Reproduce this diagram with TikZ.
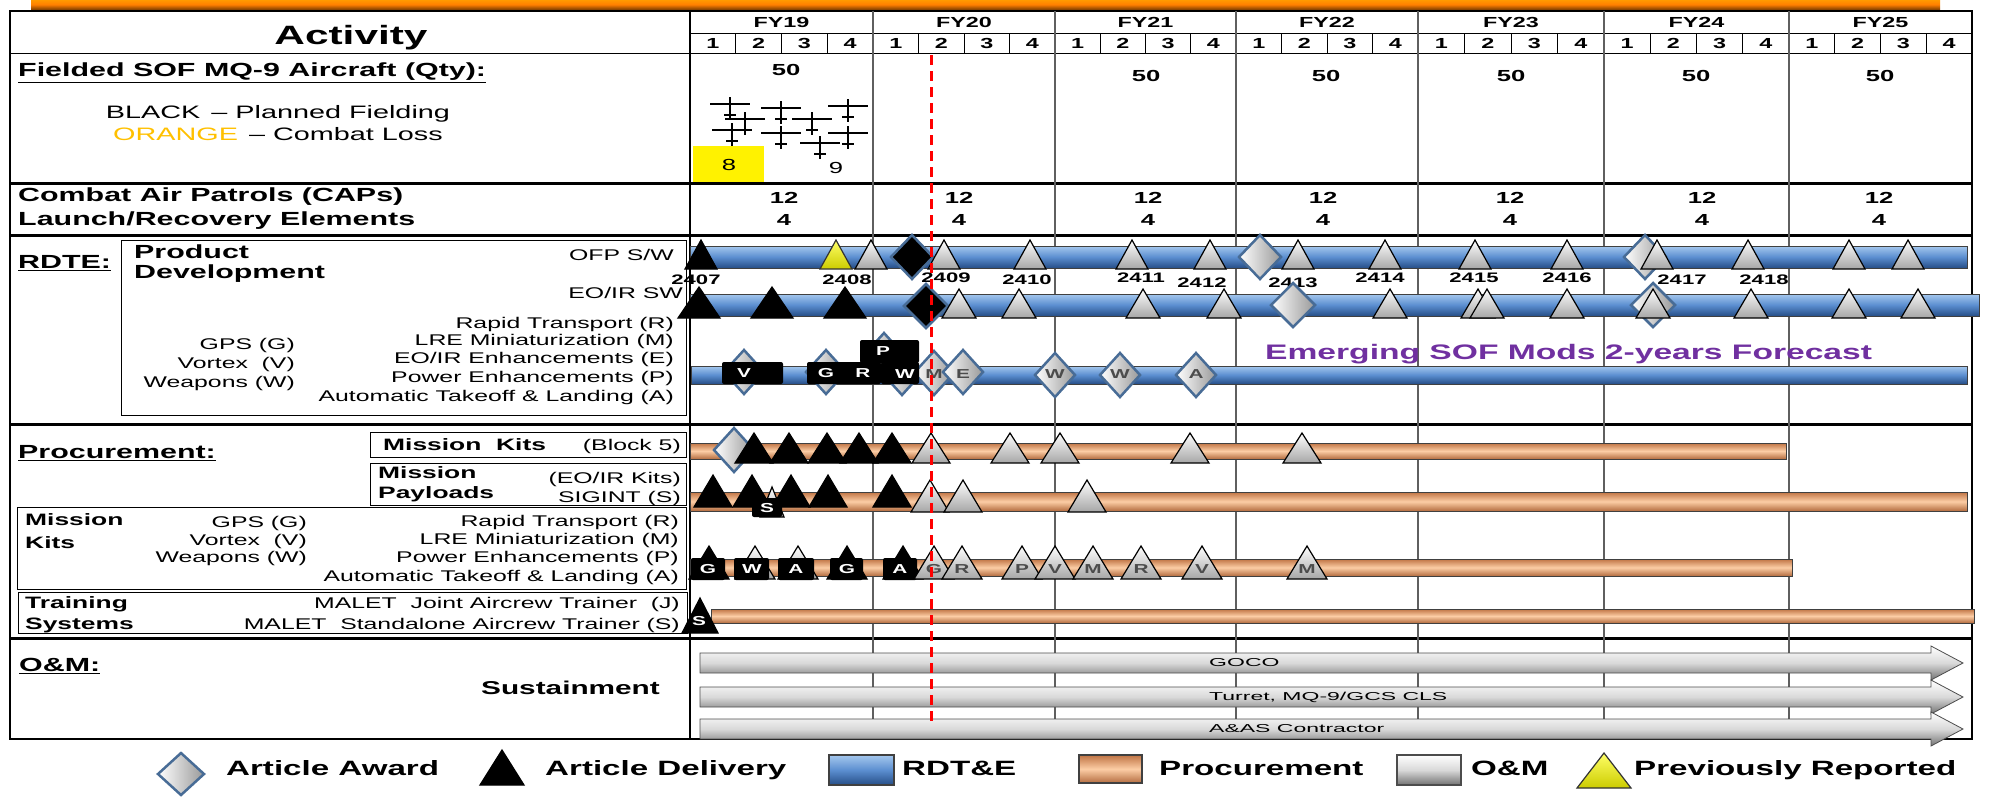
\documentclass[tikz,border=0pt]{standalone}
\usepackage{fontspec}
\setmainfont{Liberation Sans}[FakeStretch=1.6]
\newfontfamily\omfont{Liberation Sans}[FakeStretch=2.0]
\usepackage{xcolor}
\definecolor{rdblue}{RGB}{91,142,208}
\definecolor{rdlight}{RGB}{165,200,238}
\definecolor{rddark}{RGB}{38,78,135}
\definecolor{prorange}{RGB}{240,145,85}
\definecolor{prlight}{RGB}{252,205,165}
\definecolor{awblue}{RGB}{72,108,150}
\definecolor{modpurple}{RGB}{112,48,160}
\definecolor{lossorange}{RGB}{255,192,0}
\definecolor{gridgray}{RGB}{95,95,95}

\begin{document}
\begin{tikzpicture}[x=1pt,y=-1pt,
  every node/.style={inner sep=0pt,text depth=0pt},
  hd/.style={font=\bfseries\fontsize{19}{21}\selectfont},
  sub/.style={font=\bfseries\fontsize{16.5}{18}\selectfont},
  lbl/.style={font=\fontsize{15.5}{17}\selectfont},
  num/.style={font=\bfseries\fontsize{16}{18}\selectfont},
  fy/.style={font=\bfseries\fontsize{14.6}{16}\selectfont},
  ms/.style={font=\bfseries\fontsize{13.8}{15}\selectfont},
  key/.style={font=\bfseries\fontsize{20.7}{23}\selectfont,anchor=west},
  ltr/.style={font=\bfseries\fontsize{13}{14}\selectfont,white},
  gltr/.style={font=\bfseries\fontsize{13}{14}\selectfont,black!70},
  om/.style={font=\omfont\fontsize{11.5}{13}\selectfont,anchor=west},
  rdbar/.style={draw=black!75,line width=0.8pt,top color=rdlight,bottom color=rddark,middle color=rdblue},
  prbar/.style={draw=black!75,line width=0.8pt,top color=prorange!80!black,bottom color=prorange!75!black,middle color=prlight},
  ombar/.style={draw=black!70,line width=0.8pt,top color=white,bottom color=black!55,middle color=black!15},
  wtri/.style={draw=black,line width=1.2pt,top color=white,bottom color=black!35},
  btri/.style={draw=black,line width=1.2pt,fill=black},
  ytri/.style={draw=black!80,line width=1.2pt,top color=yellow!60,bottom color=yellow!80!black},
  award/.style={draw=awblue,line width=2.5pt,left color=white,right color=black!40},
  bdia/.style={draw=awblue,line width=2.5pt,fill=black},
  tag/.style={fill=black,rounded corners=2pt},
  plane/.style={line width=2.5pt}]
\useasboundingbox (0,0) rectangle (1990,796);

% frame and grid
\shade[top color=orange!80!yellow,bottom color=orange!55!black,middle color=orange] (31,0) rectangle (1940,9);
\draw[line width=1.5pt] (10,11) rectangle (1972,739);
\draw[line width=1pt] (690,33) -- (1972,33);
\draw[line width=1pt] (10,53) -- (1972,53);
\foreach \y in {183,235,424,638} \draw[line width=3pt] (10,\y) -- (1972,\y);
\draw[line width=1.5pt] (690,11) -- (690,739);
\foreach \x in {873,1055,1236,1418,1604,1789} \draw[gridgray,line width=1.5pt] (\x,11) -- (\x,739);
\foreach \a/\b [count=\i from 19] in {690/873,873/1055,1055/1236,1236/1418,1418/1604,1604/1789,1789/1972}{
  \node[fy] at ({(\a+\b)/2},22) {FY\i};
  \foreach \q in {1,...,4} \node[fy] at ({\a+(\q-0.5)*(\b-\a)/4},43) {\q};
  \foreach \q in {1,2,3} \draw[line width=1pt] ({\a+\q*(\b-\a)/4},33) -- ({\a+\q*(\b-\a)/4},53);
}

% activity column
\node[font=\bfseries\fontsize{26.5}{28}\selectfont] at (351,35) {Activity};
\node[hd,anchor=west] at (18,70) {\underline{Fielded SOF MQ-9 Aircraft (Qty):}};
\node[font=\fontsize{18}{20}\selectfont] at (278,112) {BLACK \,– Planned Fielding};
\node[font=\fontsize{18}{20}\selectfont] at (278,134) {\textcolor{lossorange}{ORANGE} \,– Combat Loss};
\node[hd,anchor=west] at (18,195) {Combat Air Patrols (CAPs)};
\node[hd,anchor=west] at (18,219) {Launch/Recovery Elements};

\node[hd,anchor=west] at (18,262) {\underline{RDTE:}};
\draw[line width=1pt] (121,240) rectangle (686,415);
\node[hd,anchor=west] at (134,252) {Product};
\node[hd,anchor=west] at (134,272) {Development};
\node[lbl,anchor=east] at (674,255) {OFP S/W};
\node[lbl,anchor=east] at (683,293) {EO/IR SW};
\node[lbl,anchor=east] at (674,323) {Rapid Transport (R)};
\node[lbl,anchor=east] at (674,340) {LRE Miniaturization (M)};
\node[lbl,anchor=east] at (674,358) {EO/IR Enhancements (E)};
\node[lbl,anchor=east] at (674,377) {Power Enhancements (P)};
\node[lbl,anchor=east] at (674,396) {Automatic Takeoff \& Landing (A)};
\node[lbl,anchor=east] at (295,344) {GPS (G)};
\node[lbl,anchor=east] at (295,363) {Vortex \ (V)};
\node[lbl,anchor=east] at (295,382) {Weapons (W)};

\node[hd,anchor=west] at (18,452) {\underline{Procurement:}};
\draw[line width=1pt] (370,432) rectangle (686,457);
\node[sub,anchor=west] at (383,445) {Mission \ Kits};
\node[lbl,anchor=east] at (681,445) {(Block 5)};
\draw[line width=1pt] (370,463) rectangle (686,505);
\node[sub,anchor=west] at (378,473) {Mission};
\node[sub,anchor=west] at (378,493) {Payloads};
\node[lbl,anchor=east] at (681,478) {(EO/IR Kits)};
\node[lbl,anchor=east] at (681,497) {SIGINT (S)};
\draw[line width=1pt] (17,507) rectangle (686,589);
\node[sub,anchor=west] at (25,520) {Mission};
\node[sub,anchor=west] at (25,543) {Kits};
\node[lbl,anchor=east] at (307,522) {GPS (G)};
\node[lbl,anchor=east] at (307,540) {Vortex \ (V)};
\node[lbl,anchor=east] at (307,557) {Weapons (W)};
\node[lbl,anchor=east] at (679,521) {Rapid Transport (R)};
\node[lbl,anchor=east] at (679,539) {LRE Miniaturization (M)};
\node[lbl,anchor=east] at (679,557) {Power Enhancements (P)};
\node[lbl,anchor=east] at (679,576) {Automatic Takeoff \& Landing (A)};
\draw[line width=1pt] (18,592) rectangle (687,633);
\node[sub,anchor=west] at (25,603) {Training};
\node[sub,anchor=west] at (25,624) {Systems};
\node[lbl,anchor=east] at (680,603) {MALET \ Joint Aircrew Trainer \ (J)};
\node[lbl,anchor=east] at (680,624) {MALET \ Standalone Aircrew Trainer (S)};

\node[hd,anchor=west] at (19,665) {\underline{O\&M:}};
\node[font=\bfseries\fontsize{18.6}{20}\selectfont,anchor=east] at (660,688) {Sustainment};

% fielded aircraft and CAPs
\node[num] at (786,70) {50};
\foreach \x in {1146,1326,1511,1696,1880} \node[num] at (\x,76) {50};
\foreach \x/\y in {730/104,745/119,732/130,781/108,781/133,812/119,848/106,848/133,820/143}
  \draw[plane] (\x-20,\y) -- (\x+20,\y) (\x,\y-7) -- (\x,\y+16) (\x-6,\y+11) -- (\x+6,\y+11);
\fill[yellow] (693,146) rectangle (764,182);
\node[font=\fontsize{16}{18}\selectfont] at (729,165) {8};
\node[font=\fontsize{16}{18}\selectfont] at (836,168) {9};
\foreach \x in {784,959,1148,1323,1510,1702,1879}{
  \node[num] at (\x,198) {12};
  \node[num] at (\x,220) {4};
}

% RDTE
\draw[rdbar] (690,246) rectangle (1967,268);
\draw[rdbar] (690,294) rectangle (1979,316);
\draw[rdbar] (691,366) rectangle (1967,384);
\foreach \x in {1260,1645} \draw[award] (\x,235) -- (\x+21,257) -- (\x,279) -- (\x-21,257) -- cycle;
\draw[bdia] (912,235) -- (933,257) -- (912,279) -- (891,257) -- cycle;
\draw[btri] (685,269) -- (701,240) -- (717,269) -- cycle;
\draw[ytri] (820,269) -- (836,240) -- (852,269) -- cycle;
\foreach \x in {871,944,1030,1132,1210,1298,1385,1475,1567,1657,1748,1849,1908}
  \draw[wtri] (\x-16,269) -- (\x,240) -- (\x+16,269) -- cycle;
\foreach \x/\lab/\y in {696/2407/280,847/2408/280,946/2409/278,1027/2410/280,1141/2411/278,1202/2412/283,
  1293/2413/283,1380/2414/278,1474/2415/278,1567/2416/278,1682/2417/280,1764/2418/280}
  \node[ms] at (\x,\y) {\lab};

\foreach \x in {1293,1653} \draw[award] (\x,283) -- (\x+22,305) -- (\x,327) -- (\x-22,305) -- cycle;
\draw[bdia] (926,284) -- (948,306) -- (926,328) -- (904,306) -- cycle;
\foreach \x in {699,772,845} \draw[btri] (\x-21,318) -- (\x,287) -- (\x+21,318) -- cycle;
\foreach \x in {959,1019,1143,1224,1390,1478,1487,1567,1653,1751,1849,1918}
  \draw[wtri] (\x-17,318) -- (\x,289) -- (\x+17,318) -- cycle;

\foreach \x/\y in {744/372,826/372,884/355,902/373,934/373,963/372,1055/375,1120/375,1196/375}
  \draw[award] (\x,\y-22) -- (\x+20,\y) -- (\x,\y+22) -- (\x-20,\y) -- cycle;
\fill[tag] (722,362) rectangle (783,384);
\fill[tag] (807,362) rectangle (881,384);
\fill[tag] (860,340) rectangle (919,363);
\fill[tag] (881,362) rectangle (919,384);
\foreach \x/\y/\lab in {744/373/V,826/373/G,863/373/R,883/351/P,905/374/W}
  \node[ltr] at (\x,\y) {\lab};
\foreach \x/\lab in {934/M,963/E,1055/W,1120/W,1196/A}
  \node[gltr] at (\x,374) {\lab};
\node[font=\bfseries\fontsize{21}{23}\selectfont,modpurple,anchor=west] at (1265,352) {Emerging SOF Mods 2-years Forecast};

% procurement
\draw[prbar] (690,443) rectangle (1786,459);
\draw[award] (734,428) -- (754,450) -- (734,472) -- (714,450) -- cycle;
\foreach \x in {754,789,827,859,892} \draw[btri] (\x-19,463) -- (\x,433) -- (\x+19,463) -- cycle;
\foreach \x in {931,1010,1060,1190,1302} \draw[wtri] (\x-19,463) -- (\x,433) -- (\x+19,463) -- cycle;

\draw[prbar] (690,492) rectangle (1967,511);
\foreach \x in {713,752,791,828,892} \draw[btri] (\x-19,507) -- (\x,475) -- (\x+19,507) -- cycle;
\draw[wtri] (760,517) -- (772,487) -- (784,517) -- cycle;
\fill[tag] (752,498) rectangle (782,517);
\node[ltr] at (767,508) {S};
\foreach \x in {930,963,1087} \draw[wtri] (\x-19,512) -- (\x,480) -- (\x+19,512) -- cycle;

\draw[prbar] (690,559) rectangle (1792,576);
\foreach \x in {709,847,903} \draw[btri] (\x-20,579) -- (\x,546) -- (\x+20,579) -- cycle;
\foreach \x in {755,798} \draw[wtri] (\x-20,579) -- (\x,546) -- (\x+20,579) -- cycle;
\foreach \a/\b in {691/725,734/769,778/814,830/863,883/917} \fill[tag] (\a,558) rectangle (\b,580);
\foreach \x/\lab in {708/G,752/W,796/A,847/G,900/A} \node[ltr] at (\x,569) {\lab};
\foreach \x/\lab in {934/G,962/R,1022/P,1055/V,1093/M,1141/R,1202/V,1307/M}{
  \draw[wtri] (\x-20,579) -- (\x,546) -- (\x+20,579) -- cycle;
  \node[gltr] at (\x,569) {\lab};
}

\draw[prbar] (711,609) rectangle (1974,623);
\draw[btri] (682,633) -- (700,598) -- (718,633) -- cycle;
\node[ltr] at (699,621) {S};

% O&M
\foreach \y in {663,697,729}
  \draw[ombar] (700,\y-10) -- (1931,\y-10) -- (1931,\y-17) -- (1963,\y) -- (1931,\y+17) -- (1931,\y+10) -- (700,\y+10) -- cycle;
\node[om] at (1209,662) {GOCO};
\node[om] at (1209,696) {Turret, MQ-9/GCS CLS};
\node[om] at (1209,728) {A\&AS Contractor};

\draw[red,line width=3pt,dash pattern=on 10pt off 6pt] (931,55) -- (931,722);

% legend
\draw[award] (181,753) -- (204,774) -- (181,795) -- (158,774) -- cycle;
\node[key] at (226,768) {Article Award};
\draw[btri] (480,785) -- (502,750) -- (524,785) -- cycle;
\node[key] at (545,768) {Article Delivery};
\draw[rdbar,line width=1.5pt] (829,755) rectangle (894,785);
\node[key] at (902,768) {RDT\&E};
\draw[prbar,line width=1.5pt] (1079,755) rectangle (1142,783);
\node[key] at (1159,768) {Procurement};
\draw[ombar,line width=1.5pt] (1397,755) rectangle (1461,785);
\node[key] at (1471,768) {O\&M};
\draw[ytri] (1577,788) -- (1604,753) -- (1631,788) -- cycle;
\node[key] at (1634,768) {Previously Reported};
\end{tikzpicture}
\end{document}
